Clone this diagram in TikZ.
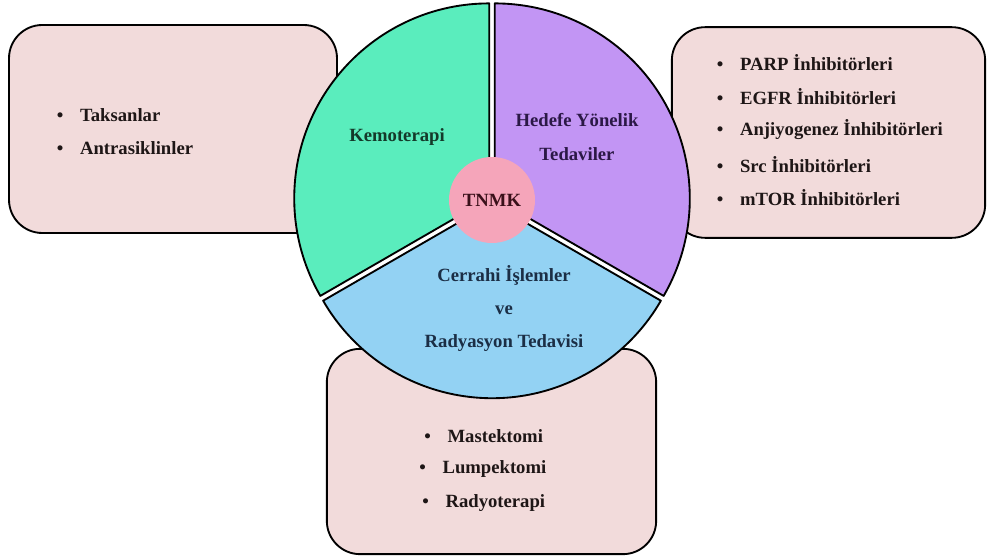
\documentclass[tikz,border=0pt]{standalone}
\usepackage{fontspec}
\setmainfont{Liberation Serif}
\definecolor{boxfill}{HTML}{F2DBDB}
\definecolor{kemo}{HTML}{5AEDBD}
\definecolor{hedef}{HTML}{C295F4}
\definecolor{cerr}{HTML}{93D2F3}
\definecolor{tnmk}{HTML}{F5A5BA}
\definecolor{kemotext}{HTML}{143A2A}
\definecolor{hedeftext}{HTML}{2B1846}
\definecolor{cerrtext}{HTML}{1B2E45}
\definecolor{tnmktext}{HTML}{3A101A}
\definecolor{itemtext}{HTML}{1E1616}
\begin{document}
\begin{tikzpicture}[x=0.75pt,y=0.75pt,
  font=\bfseries\fontsize{14}{16}\selectfont,
  box/.style={draw=black, line width=1.4pt, fill=boxfill, rounded corners=25pt, inner sep=0pt},
  sect/.style={draw=black, line width=1.4pt, line join=round},
  item/.style={anchor=west, text=itemtext, inner sep=0pt},
  lab/.style={inner sep=0pt, align=center, font=\bfseries\fontsize{14}{25}\selectfont}]
\useasboundingbox (0,0) rectangle (990,558);
\newcommand{\bitem}[1]{\makebox[17.5pt][l]{\textbullet}#1}
% boxes
\node[box, minimum width=246pt, minimum height=156pt] (L) at (173,429) {};
\node[box, minimum width=235pt, minimum height=158pt] (R) at (828.5,425.5) {};
\node[box, minimum width=247pt, minimum height=154pt] (B) at (491.5,106.5) {};
% pie
\coordinate (C) at (492,358);
\begin{scope}[shift={(150:2.4pt)}]
  \draw[sect, fill=kemo] (492,358) -- ++(90:146.25pt) arc[start angle=90, end angle=210, radius=146.25pt] -- cycle;
\end{scope}
\begin{scope}[shift={(30:2.4pt)}]
  \draw[sect, fill=hedef] (492,358) -- ++(-30:146.25pt) arc[start angle=-30, end angle=90, radius=146.25pt] -- cycle;
\end{scope}
\begin{scope}[shift={(270:2.4pt)}]
  \draw[sect, fill=cerr] (492,358) -- ++(210:146.25pt) arc[start angle=210, end angle=330, radius=146.25pt] -- cycle;
\end{scope}
\node[circle, fill=tnmk, minimum size=64.5pt, inner sep=0pt, text=tnmktext] (T) at (C) {TNMK};
% sector labels
\node[lab, text=kemotext] (kemolab) at (397,421) {Kemoterapi};
\node[lab, text=hedeftext] (hedeflab) at (577,421) {Hedefe Yönelik\\Tedaviler};
\node[lab, text=cerrtext] (cerrlab) at (504,249.5) {Cerrahi İşlemler\\ve\\Radyasyon Tedavisi};
% left items
\node[item] (l1) at (56.5,443) {\bitem{Taksanlar}};
\node[item] (l2) at (56.5,410) {\bitem{Antrasiklinler}};
% right items
\node[item] (r1) at (716.5,495) {\bitem{PARP İnhibitörleri}};
\node[item] (r2) at (716.5,461) {\bitem{EGFR İnhibitörleri}};
\node[item] (r3) at (716.5,428) {\bitem{Anjiyogenez İnhibitörleri}};
\node[item] (r4) at (716.5,393) {\bitem{Src İnhibitörleri}};
\node[item] (r5) at (716.5,360) {\bitem{mTOR İnhibitörleri}};
% bottom items
\node[item] (b1) at (424,122) {\bitem{Mastektomi}};
\node[item] (b2) at (419,89) {\bitem{Lumpektomi}};
\node[item] (b3) at (422,55) {\bitem{Radyoterapi}};
\end{tikzpicture}
\end{document}
